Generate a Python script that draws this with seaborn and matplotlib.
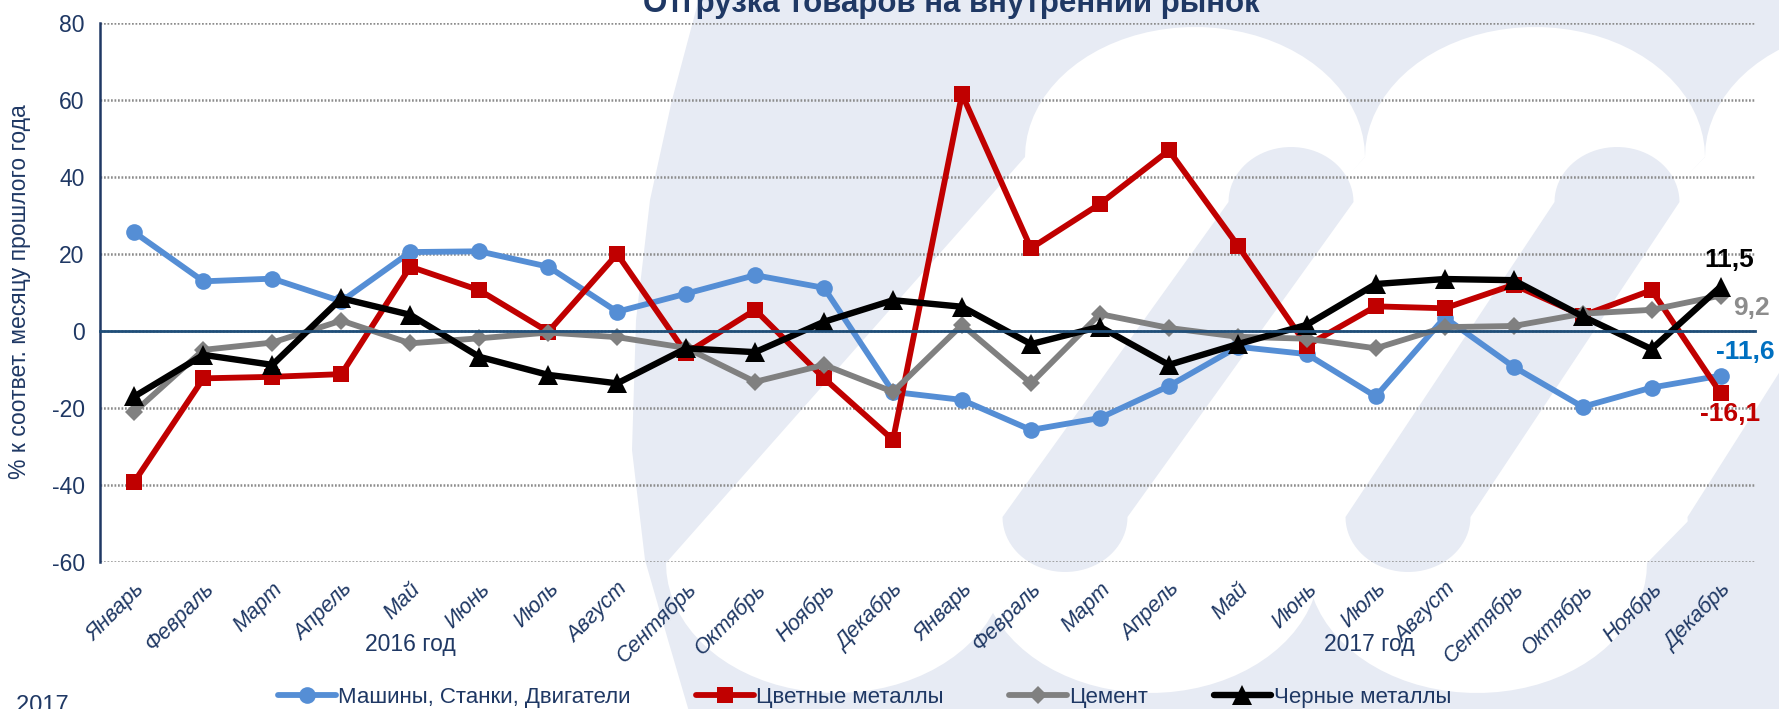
import numpy as np
import pandas as pd
import matplotlib
matplotlib.use('Agg')
import matplotlib.pyplot as plt
import seaborn as sns
from matplotlib.patches import Polygon
from matplotlib.transforms import Affine2D, blended_transform_factory

# Данные: % к соответствующему месяцу прошлого года
months = ['Январь', 'Февраль', 'Март', 'Апрель', 'Май', 'Июнь', 'Июль', 'Август',
          'Сентябрь', 'Октябрь', 'Ноябрь', 'Декабрь'] * 2
mashiny = [25.6, 12.9, 13.6, 7.7, 20.5, 20.7, 16.7, 5.0, 9.7, 14.5, 11.2, -15.8,
           -17.9, -25.7, -22.6, -14.3, -4.1, -6.0, -17.0, 3.5, -9.3, -19.7, -14.7, -11.6]
cvetnye = [-39.1, -12.3, -11.9, -11.2, 16.7, 10.6, -0.2, 20.0, -5.8, 5.5, -12.3, -28.3,
           61.5, 21.5, 33.0, 46.9, 22.2, -3.8, 6.4, 5.9, 12.0, 4.0, 10.6, -16.1]
cement = [-21.0, -4.9, -3.0, 2.7, -3.2, -1.9, -0.4, -1.6, -4.4, -13.2, -8.8, -15.8,
          1.6, -13.6, 4.4, 0.8, -1.5, -2.0, -4.5, 1.0, 1.3, 4.5, 5.5, 9.2]
chernye = [-17.0, -6.2, -8.8, 8.5, 4.2, -6.7, -11.4, -13.6, -4.5, -5.5, 2.4, 8.0,
           6.3, -3.4, 1.1, -8.8, -3.4, 1.6, 12.2, 13.5, 13.2, 3.8, -4.7, 11.5]
years = ['2016 год', '2017 год']
series = ['Машины, Станки, Двигатели', 'Цветные металлы', 'Цемент', 'Черные металлы']

df = pd.DataFrame({'n': np.arange(len(months)), 'month': months,
                   series[0]: mashiny, series[1]: cvetnye,
                   series[2]: cement, series[3]: chernye})

navy = '#1F3864'
styles = {
    series[0]: dict(color='#558ED5', marker='o', markersize=12, lw=4.2, label_color='#0070C0', off=(18, 17)),
    series[1]: dict(color='#C00000', marker='s', markersize=12, lw=4.2, label_color='#C00000', off=(7, -15)),
    series[2]: dict(color='#808080', marker='D', markersize=9, lw=4.2, label_color='#8C8C8C', off=(22, -9)),
    series[3]: dict(color='#000000', marker='^', markersize=14, lw=4.6, label_color='#000000', off=(6, 19)),
}

sns.set_style('white')
plt.rcParams['font.family'] = ['Liberation Sans', 'DejaVu Sans']
plt.rcParams['axes.unicode_minus'] = False

W, H = 1779, 709
fig = plt.figure(figsize=(W / 100, H / 100), dpi=100)

# фоновый водяной знак (логотип) в пиксельных координатах
px = Affine2D().scale(1 / W, -1 / H).translate(0, 1) + fig.transFigure
light = '#E7EBF4'


def capsule(xt, yt, xb, yb, w, ry):
    t = np.linspace(0, np.pi, 40)
    top = np.column_stack([xt - w / 2 * np.cos(t), yt + ry - ry * np.sin(t)])
    bot = np.column_stack([xb + w / 2 * np.cos(t), yb - ry + ry * np.sin(t)])
    return np.vstack([top, bot])


outer = [(700, -5), (672, 100), (650, 200), (636, 320), (632, 450), (645, 560),
         (668, 640), (690, 715), (1790, 715), (1790, -5)]
fig.add_artist(Polygon(outer, closed=True, transform=px, fc=light, ec='none', zorder=-3))
for xt, xb in [(1195, 836), (1535, 1150), (1875, 1477)]:
    fig.add_artist(Polygon(capsule(xt, 27, xb, 693, 340, 130), transform=px,
                           fc='white', ec='none', zorder=-2))
for xt, xb in [(1291, 1065), (1617, 1408), (1950, 1750)]:
    fig.add_artist(Polygon(capsule(xt, 147, xb, 572, 125, 55), transform=px,
                           fc=light, ec='none', zorder=-1))

ax = fig.add_axes([100 / W, 1 - 562 / H, 1655 / W, 539 / H])
ax.set_facecolor('none')

for name in series:
    st = styles[name]
    sns.lineplot(data=df, x='n', y=name, ax=ax, color=st['color'], marker=st['marker'],
                 markersize=st['markersize'], lw=st['lw'], markeredgewidth=0,
                 label=name, errorbar=None, sort=False)
    last = df[name].iloc[-1]
    ax.annotate(f'{last:.1f}'.replace('.', ','), (df['n'].iloc[-1], last),
                xytext=st['off'], textcoords='offset points', ha='center', va='center',
                fontsize=19, fontweight='bold', color=st['label_color'], annotation_clip=False)

ax.set_xlim(-0.5, len(months) - 0.5)
ax.set_ylim(-60, 80)
ax.set_yticks(np.arange(-60, 81, 20))
ax.yaxis.grid(True, color='#8C8C8C', lw=1.8, linestyle=(0, (0.7, 0.7)))
ax.xaxis.grid(False)
for s in ['top', 'right']:
    ax.spines[s].set_visible(False)
ax.spines['left'].set_color(navy)
ax.spines['left'].set_linewidth(1.8)
ax.spines['bottom'].set_position(('data', 0))
ax.spines['bottom'].set_color('#1F4E79')
ax.spines['bottom'].set_linewidth(2)
ax.set_xticks(np.arange(len(months)))
ax.set_xticks(np.arange(-0.5, len(months), 1), minor=True)
ax.tick_params(axis='x', which='both', direction='inout', length=11, width=1.5,
               color='#1F4E79', labelbottom=False)
ax.tick_params(axis='y', direction='out', length=6, width=1.8, color=navy,
               labelsize=16.5, labelcolor=navy, pad=5)
ax.set_xlabel('')
ax.set_ylabel('')

# подписи месяцев внизу графика
sec = ax.secondary_xaxis(location=0)
sec.set_xticks(np.arange(len(months)), labels=months)
sec.tick_params(length=0, pad=12, labelsize=15.5, labelcolor=navy)
sec.spines['bottom'].set_visible(False)
for lab in sec.get_xticklabels():
    lab.set_rotation(45)
    lab.set_ha('right')
    lab.set_va('top')
    lab.set_rotation_mode('anchor')
    lab.set_fontstyle('italic')

trans = blended_transform_factory(ax.transData, fig.transFigure)
for pos, txt in zip([4.0, 17.9], years):
    ax.text(pos, 1 - 645 / H, txt, transform=trans, ha='center', va='center',
            fontsize=16.5, color=navy)

fig.text(0.535, 1 - 12 / H, 'Отгрузка товаров на внутренний рынок', ha='center',
         va='baseline', fontsize=22.5, fontweight='bold', color=navy)
fig.text(20 / W, 1 - 292 / H, '% к соответ. месяцу прошлого года', rotation=90,
         ha='center', va='center', fontsize=16.5, color=navy)
fig.text(3 / W, -0.004, ', 2017', ha='left', va='baseline', fontsize=17, color=navy)

handles, labels = ax.get_legend_handles_labels()
if ax.get_legend():
    ax.get_legend().remove()
fig.legend(handles, labels, loc='center left', bbox_to_anchor=(278 / W, 1 - 697 / H),
           ncol=4, frameon=False, fontsize=16, labelcolor=navy, handlelength=2.6,
           handletextpad=0.1, columnspacing=2.95, borderaxespad=0, borderpad=0)

fig.savefig('out.png', dpi=100)
